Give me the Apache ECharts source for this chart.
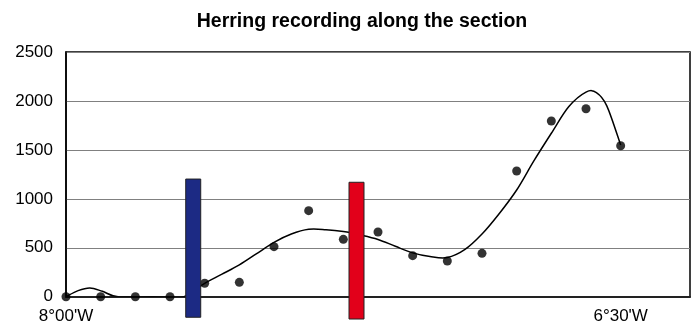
<!DOCTYPE html>
<html>
<head>
<meta charset="utf-8">
<script src="https://cdn.jsdelivr.net/npm/echarts@6/dist/echarts.min.js"></script>
<style>
  html, body { margin: 0; padding: 0; background: #fff; }
  #chart { width: 696px; height: 326px; }
</style>
</head>
<body>
<div id="chart"></div>
<script>
// Stations along the section (index) and herring counts recorded at each
const stations = [0, 1, 2, 3, 4, 5, 6, 7, 8, 9, 10, 11, 12, 13, 14, 15, 16];
const herring = [0, 0, 0, 0, 137, 147, 511, 879, 586, 661, 419, 365, 443, 1284, 1795, 1920, 1542];

// Smoothed trend drawn through the records
const trendX = [0, 0.35, 0.69, 1.05, 1.5, 2.5, 3.4, 3.75, 4.0, 4.5, 5.0, 5.5, 6.0, 6.5, 7.0, 7.5, 8.0, 8.5, 9.0, 9.5, 10.0, 10.5, 11.0, 11.5, 12.0, 12.5, 13.0, 13.5, 14.0, 14.5, 15.0, 15.3, 15.6, 16.0];
const trendY = [0, 62, 89, 55, 0, 0, 0, 80, 137, 230, 325, 440, 555, 640, 688, 684, 665, 630, 585, 515, 448, 410, 400, 480, 640, 850, 1090, 1390, 1670, 1940, 2090, 2085, 1950, 1550];

// Front markers along the section: position, top and bottom values
const markerX = [3.67, 8.38];
const markerTop = [1202, 1169];
const markerBottom = [-210, -228];

// Longitude tick labels and where they sit
const xTickValues = [0, 16];
const xTickLabels = ["8°00'W", "6°30'W"];

const markerFill = ['#1c2a84', '#e2001a'];

const FONT = '"Liberation Sans", Arial, sans-serif';

// Catmull-Rom spline through pixel points, returned as an SVG path string
function splinePath(pts) {
  let d = 'M' + pts[0][0] + ',' + pts[0][1];
  for (let i = 0; i < pts.length - 1; i++) {
    const p0 = pts[Math.max(i - 1, 0)];
    const p1 = pts[i];
    const p2 = pts[i + 1];
    const p3 = pts[Math.min(i + 2, pts.length - 1)];
    const c1x = p1[0] + (p2[0] - p0[0]) / 6, c1y = p1[1] + (p2[1] - p0[1]) / 6;
    const c2x = p2[0] - (p3[0] - p1[0]) / 6, c2y = p2[1] - (p3[1] - p1[1]) / 6;
    d += 'C' + c1x + ',' + c1y + ' ' + c2x + ',' + c2y + ' ' + p2[0] + ',' + p2[1];
  }
  return d;
}

const chart = echarts.init(document.getElementById('chart'), null, { renderer: 'canvas' });

chart.setOption({
  animation: false,
  backgroundColor: '#ffffff',
  title: {
    text: 'Herring recording along the section',
    left: 357,
    textAlign: 'center',
    top: 7,
    textStyle: { fontFamily: FONT, fontSize: 19.5, fontWeight: 'bold', color: '#000' }
  },
  grid: {
    left: 66, right: 6, top: 52, bottom: 29.3,
    show: true, borderColor: '#000', borderWidth: 1.5, backgroundColor: 'transparent'
  },
  xAxis: {
    type: 'value',
    min: 0, max: 18, interval: 16,
    axisLine: { show: true, onZero: true, lineStyle: { color: '#222', width: 2 } },
    axisTick: { show: false },
    splitLine: { show: false },
    axisLabel: {
      margin: 11,
      fontFamily: FONT, fontSize: 17, color: '#000',
      showMaxLabel: false,
      formatter: function (v) {
        const i = xTickValues.indexOf(v);
        return i >= 0 ? xTickLabels[i] : '';
      }
    }
  },
  yAxis: {
    type: 'value',
    min: 0, max: 2500, interval: 500,
    axisLine: { show: true, lineStyle: { color: '#000', width: 1.5 } },
    axisTick: { show: false },
    splitLine: { show: true, lineStyle: { color: '#808080', width: 1 } },
    axisLabel: {
      margin: 13, fontFamily: FONT, fontSize: 17, color: '#000',
      formatter: function (v) { return String(v); }
    }
  },
  series: [
    {
      // trend curve: all points mapped through the axes, joined by a spline
      type: 'custom',
      clip: true,
      z: 2,
      data: [[trendX[0], trendY[0]]],
      renderItem: function (params, api) {
        const pts = trendX.map((x, i) => api.coord([x, trendY[i]]));
        return {
          type: 'path',
          shape: { pathData: splinePath(pts) },
          style: { fill: null, stroke: '#000', lineWidth: 1.5 }
        };
      }
    },
    {
      type: 'scatter',
      data: stations.map((s, i) => [s, herring[i]]),
      symbol: 'circle',
      symbolSize: 9,
      itemStyle: { color: '#000' },
      z: 3
    },
    {
      type: 'custom',
      clip: false,
      z: 5,
      data: markerX.map((x, i) => [x, markerTop[i], markerBottom[i], i]),
      renderItem: function (params, api) {
        const top = api.coord([api.value(0), api.value(1)]);
        const bot = api.coord([api.value(0), api.value(2)]);
        const w = 15;
        return {
          type: 'rect',
          shape: { x: top[0] - w / 2, y: top[1], width: w, height: bot[1] - top[1] },
          style: { fill: markerFill[api.value(3)], stroke: '#222', lineWidth: 1 }
        };
      }
    }
  ]
});
</script>
</body>
</html>
